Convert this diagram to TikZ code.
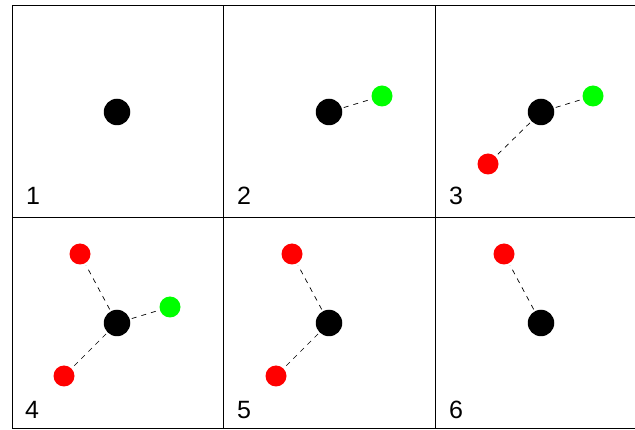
\documentclass[tikz,border=0pt]{standalone}
\usepackage{fontspec}
\setmainfont{Liberation Sans}
\begin{document}
\begin{tikzpicture}[x=1pt,y=-1pt,
  blk/.style={circle,fill=black,inner sep=0pt,minimum size=26.5pt},
  grn/.style={circle,fill={rgb,255:red,0;green,255;blue,0},inner sep=0pt,minimum size=21pt},
  rd/.style={circle,fill={rgb,255:red,255;green,0;blue,0},inner sep=0pt,minimum size=21pt},
  link/.style={dashed,dash pattern=on 5pt off 5pt,line width=0.7pt,shorten <=2pt,shorten >=2pt},
  grid/.style={line width=1pt},
  lbl/.style={anchor=base west,inner sep=0pt,font=\fontsize{25}{28}\selectfont}]
\useasboundingbox (0,0) rectangle (635,430);
% grid
\draw[grid] (635,5.5) -- (12,5.5) -- (12,429) -- (635,429);
\draw[grid] (12,217.5) -- (635,217.5);
\draw[grid] (223,5.5) -- (223,429);
\draw[grid] (435,5.5) -- (435,429);
% labels
\node[lbl] (l1) at (26,205) {1};
\node[lbl] (l2) at (237,205) {2};
\node[lbl] (l3) at (449,205) {3};
\node[lbl] (l4) at (25,418) {4};
\node[lbl] (l5) at (237,418) {5};
\node[lbl] (l6) at (449,418) {6};
% cell 1
\node[blk] (b1) at (117,112) {};
% cell 2
\node[blk] (b2) at (329,112) {};
\node[grn] (g2) at (382,96) {};
\draw[link] (b2) -- (g2);
% cell 3
\node[blk] (b3) at (541,112) {};
\node[grn] (g3) at (593,96) {};
\node[rd] (r3) at (488,164) {};
\draw[link] (b3) -- (g3);
\draw[link] (b3) -- (r3);
% cell 4
\node[blk] (b4) at (117,323) {};
\node[grn] (g4) at (170,307) {};
\node[rd] (r4a) at (80,254) {};
\node[rd] (r4b) at (64,376) {};
\draw[link] (b4) -- (g4);
\draw[link] (b4) -- (r4a);
\draw[link] (b4) -- (r4b);
% cell 5
\node[blk] (b5) at (329,323) {};
\node[rd] (r5a) at (292,254) {};
\node[rd] (r5b) at (276,376) {};
\draw[link] (b5) -- (r5a);
\draw[link] (b5) -- (r5b);
% cell 6
\node[blk] (b6) at (541,323) {};
\node[rd] (r6) at (504,254) {};
\draw[link] (b6) -- (r6);
\end{tikzpicture}
\end{document}
